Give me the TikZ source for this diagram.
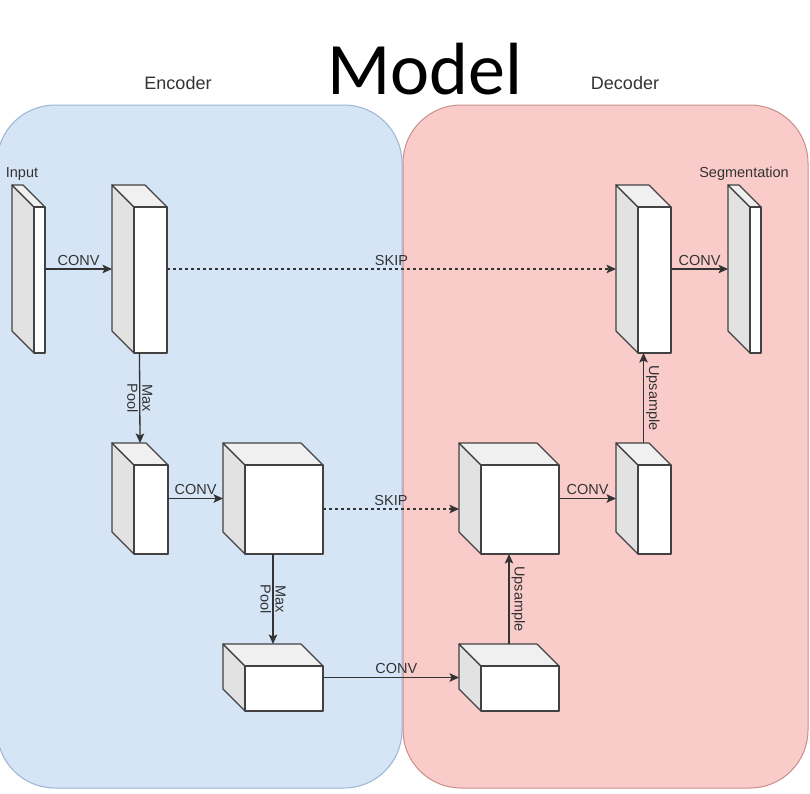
\documentclass[tikz,border=0pt]{standalone}
\usepackage{fontspec}
\setmainfont{Liberation Sans}
\newfontfamily\titlefont{Carlito}
\usetikzlibrary{arrows.meta,calc}
\definecolor{ink}{HTML}{333333}
\definecolor{edge}{HTML}{424242}
\definecolor{encfill}{HTML}{D5E5F6}
\definecolor{encline}{HTML}{9AB4D4}
\definecolor{decfill}{HTML}{F9CCCA}
\definecolor{decline}{HTML}{C98E8A}
\definecolor{side}{HTML}{E2E2E2}
\definecolor{lid}{HTML}{F0F0F0}
\newcommand{\dep}{22}
% one box: name, top-left corner of its bounding box, width, height
\newcommand{\cube}[5]{%
  \node[inner sep=0, outer sep=0, minimum width=#4pt, minimum height=#5pt] (#1) at ({#2+#4/2},{#3+#5/2}) {};
  \draw[edge, line width=1.2pt, line join=round, fill=side] (#1.north west) -- ++(\dep,\dep)
    -- ($(#1.south west)+(\dep,0)$) -- ($(#1.south west)+(0,-\dep)$) -- cycle;
  \draw[edge, line width=1.2pt, line join=round, fill=lid] (#1.north west) -- ($(#1.north east)+(-\dep,0)$)
    -- ($(#1.north east)+(0,\dep)$) -- ($(#1.north west)+(\dep,\dep)$) -- cycle;
  \draw[edge, line width=1.2pt, line join=round, fill=white] ($(#1.north west)+(\dep,\dep)$) rectangle (#1.south east);}

\begin{document}
\begin{tikzpicture}[x=1pt, y=-1pt, >={Stealth[length=9.5pt,width=8.5pt,inset=2pt]},
  flow/.style={->, ink, line width=1.3pt},
  skip/.style={flow, dash pattern=on 3pt off 3pt},
  lbl/.style={font=\fontsize{14.5}{15}\selectfont, text=ink, inner sep=3pt},
  head/.style={font=\fontsize{18}{20}\selectfont, text=ink}]

\clip (0,0) rectangle (810,793);
\fill[white] (0,0) rectangle (810,793);

% ================= panels and titles =================
\filldraw[fill=encfill, draw=encline, line width=1pt, rounded corners=58] (-3,105) rectangle (402,788);
\filldraw[fill=decfill, draw=decline, line width=1pt, rounded corners=58] (403,105) rectangle (808,788);

\node[font=\titlefont\fontsize{74}{80}\selectfont, anchor=base] (title) at (425,94) {Model};
\node[head] (enctitle) at (178,83) {Encoder};
\node[head] (dectitle) at (625,83) {Decoder};
\node[lbl] (intitle) at (22,174) {Input};
\node[lbl] (segtitle) at (744,174) {Segmentation};

% ================= encoder =================
\cube{input}{12}{185}{33}{168}
\cube{enc1}{112}{185}{55}{168}
\cube{enc2}{112}{443}{56}{111}
\cube{enc3}{223}{443}{100}{111}
\cube{enc4}{223}{644}{100}{67}

% ================= decoder =================
\cube{dec1}{616}{185}{55}{168}
\cube{seg}{728}{185}{33}{168}
\cube{dec2}{459}{443}{100}{111}
\cube{dec3}{616}{443}{55}{111}
\cube{dec4}{459}{644}{100}{67}

% ================= arrows =================
\draw[flow] (input.east) -- node[lbl, above] (conv1) {CONV} (enc1.west);
\draw[flow] (enc2.east) -- node[lbl, above] (conv2) {CONV} (enc3.west);
\draw[flow] (enc4.east) -- node[lbl, above, pos=.54] (conv3) {CONV} (dec4.west);
\draw[flow] (dec2.east) -- node[lbl, above] (conv4) {CONV} (dec3.west);
\draw[flow] (dec1.east) -- node[lbl, above] (conv5) {CONV} (seg.west);

\draw[flow] (enc1.south) -- node[lbl, rotate=-90, align=center] (pool1) {Max\\Pool} (enc2.north);
\draw[flow] (enc3.south) -- node[lbl, rotate=-90, align=center] (pool2) {Max\\Pool} (enc4.north);

\draw[flow] (dec4.north) -- node[lbl, rotate=-90, anchor=south, inner sep=2pt] (up1) {Upsample} (dec2.south);
\draw[flow] (dec3.north) -- node[lbl, rotate=-90, anchor=south, inner sep=2pt] (up2) {Upsample} (dec1.south);

% skip connections
\draw[skip] (enc1.east) -- node[lbl, above] (skip1) {SKIP} (dec1.west);
\draw[skip] ([yshift=-10.5pt]enc3.east) -- node[lbl, above] (skip2) {SKIP} ([yshift=-10.5pt]dec2.west);

\end{tikzpicture}
\end{document}
